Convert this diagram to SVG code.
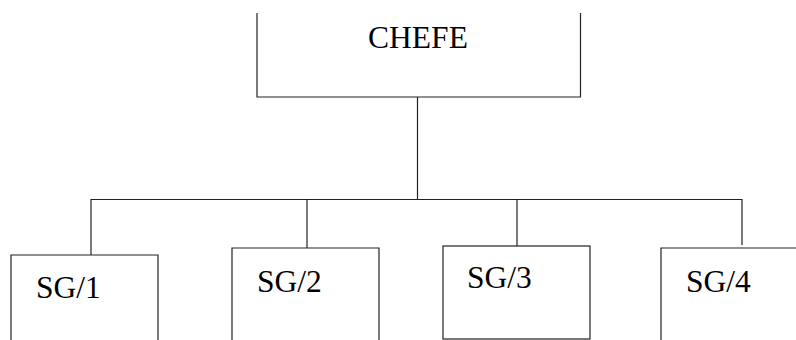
<svg xmlns="http://www.w3.org/2000/svg" width="796" height="340" viewBox="0 0 796 340">
<style>
.box{fill:none;stroke:#222;stroke-width:1.2}
.ln{fill:none;stroke:#222;stroke-width:1.2}
.t{font-family:"Liberation Serif","Times New Roman",serif;font-size:31.5px;fill:#000}
</style>
<rect width="796" height="340" fill="#fff"/>
<g id="chefe">
<path class="box" d="M257 13V97H580.5V13"/>
<text class="t" x="418" y="48" text-anchor="middle">CHEFE</text>
</g>
<g id="connectors">
<path class="ln" d="M417.5 97V199.5"/>
<path class="ln" d="M91 255V199.5H742V245"/>
<path class="ln" d="M307 199.5V248"/>
<path class="ln" d="M517 199.5V246"/>
</g>
<g id="sg1">
<path class="box" d="M11 341V255H158V341"/>
<text class="t" x="36" y="298">SG/1</text>
</g>
<g id="sg2">
<path class="box" d="M232 341V248H379V341"/>
<text class="t" x="257" y="292">SG/2</text>
</g>
<g id="sg3">
<rect class="box" x="443" y="246" width="147" height="93"/>
<text class="t" x="467" y="288">SG/3</text>
</g>
<g id="sg4">
<path class="box" d="M661 341V248H797"/>
<text class="t" x="686" y="292">SG/4</text>
</g>
</svg>
